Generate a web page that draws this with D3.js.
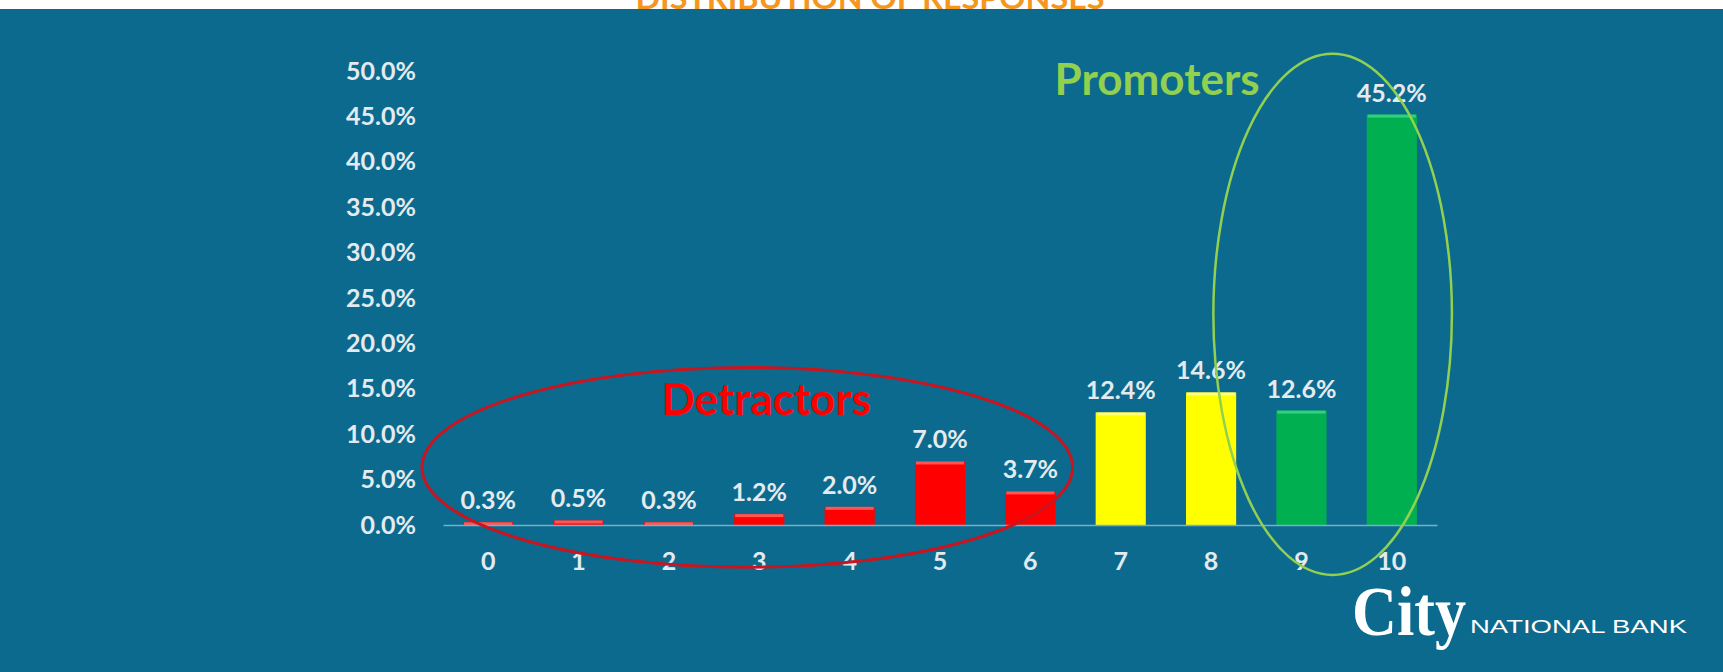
<!DOCTYPE html>
<html>
<head>
<meta charset="utf-8">
<script src="https://cdn.jsdelivr.net/npm/d3@7"></script>
<style>
  html, body { margin: 0; padding: 0; background: #ffffff; }
  svg { display: block; }
  text { font-family: Lato, "Open Sans", sans-serif; }
</style>
</head>
<body>
<svg id="chart"></svg>
<script>
// data
const scores = ["0", "1", "2", "3", "4", "5", "6", "7", "8", "9", "10"];
const shares = [0.3, 0.5, 0.3, 1.2, 2.0, 7.0, 3.7, 12.4, 14.6, 12.6, 45.2];
const groups = ["detractor", "detractor", "detractor", "detractor", "detractor", "detractor", "detractor",
                "passive", "passive", "promoter", "promoter"];
const yTicks = [0, 5, 10, 15, 20, 25, 30, 35, 40, 45, 50];

const groupColor = { detractor: "#ff0000", passive: "#ffff00", promoter: "#00b050" };
const groupTop = { detractor: "#ff6a6a", passive: "#ffff9a", promoter: "#3fd886" };

const width = 1723, height = 672;
const margin = { top: 71, right: 286, bottom: 147, left: 443 };

const svg = d3.select("#chart")
    .attr("width", width)
    .attr("height", height);

// slide background, a white strip with the cut-off title on top
svg.append("rect")
    .attr("x", 0).attr("y", 9)
    .attr("width", width).attr("height", height - 9)
    .attr("fill", "#0c6a8e");

svg.append("text")
    .attr("x", 870).attr("y", 9)
    .attr("text-anchor", "middle")
    .attr("textLength", 469)
    .attr("lengthAdjust", "spacingAndGlyphs")
    .style("font-size", "30px")
    .style("font-weight", 700)
    .style("fill", "#f5961e")
    .text("DISTRIBUTION OF RESPONSES");

const innerW = width - margin.left - margin.right;
const innerH = height - margin.top - margin.bottom;

const x = d3.scaleBand()
    .domain(scores)
    .range([margin.left, margin.left + innerW])
    .paddingInner(0.445)
    .paddingOuter(0.2225);

const y = d3.scaleLinear()
    .domain([0, 50])
    .range([margin.top + innerH, margin.top]);

const labelColor = "#e4ebf0";

// y axis labels (no line, no ticks)
const yAxis = d3.axisLeft(y)
    .tickValues(yTicks)
    .tickFormat(d => d.toFixed(1) + "%")
    .tickSize(0)
    .tickPadding(0);

const yAxisG = svg.append("g")
    .attr("transform", `translate(${margin.left - 27},0)`)
    .call(yAxis);
yAxisG.select(".domain").remove();
yAxisG.selectAll("text")
    .style("font-family", "Lato, sans-serif")
    .style("font-size", "25px")
    .style("font-weight", 700)
    .style("fill", labelColor);

// bars
const bars = svg.append("g").selectAll(".bar")
    .data(scores)
    .enter();

bars.append("rect")
    .attr("class", "bar")
    .attr("x", d => x(d))
    .attr("y", (d, i) => y(shares[i]))
    .attr("width", x.bandwidth())
    .attr("height", (d, i) => y(0) - y(shares[i]))
    .attr("fill", (d, i) => groupColor[groups[i]]);

// light bevel along the top of each bar
bars.append("rect")
    .attr("x", d => x(d) + 1)
    .attr("y", (d, i) => y(shares[i]))
    .attr("width", x.bandwidth() - 2)
    .attr("height", (d, i) => Math.min(3, y(0) - y(shares[i])))
    .attr("fill", (d, i) => groupTop[groups[i]])
    .attr("opacity", 0.8);

// x axis: baseline + category labels
const xAxis = d3.axisBottom(x)
    .tickSize(0)
    .tickPadding(0);

const xAxisG = svg.append("g")
    .attr("transform", `translate(0,${y(0)})`)
    .call(xAxis);
xAxisG.select(".domain")
    .attr("stroke", "#78aecb")
    .attr("stroke-width", 1.5);
xAxisG.selectAll("text")
    .attr("y", 45)
    .attr("dy", 0)
    .style("font-family", "Lato, sans-serif")
    .style("font-size", "25px")
    .style("font-weight", 700)
    .style("fill", labelColor);

// value labels above bars
svg.append("g").selectAll(".value")
    .data(scores)
    .enter().append("text")
    .attr("class", "value")
    .attr("x", d => x(d) + x.bandwidth() / 2)
    .attr("y", (d, i) => y(shares[i]) - 13)
    .attr("text-anchor", "middle")
    .style("font-size", "25px")
    .style("font-weight", 700)
    .style("fill", labelColor)
    .text((d, i) => shares[i].toFixed(1) + "%");

// hand drawn call-outs
const step = x.step();
const mid = d => x(d) + x.bandwidth() / 2;

svg.append("ellipse")
    .attr("cx", mid("3") - 12)
    .attr("cy", y(6.35))
    .attr("rx", step * 3.6)
    .attr("ry", y(0) - y(11))
    .attr("fill", "none")
    .attr("stroke", "#c8151f")
    .attr("stroke-width", 3);

svg.append("text")
    .attr("x", mid("3") + 7)
    .attr("y", y(12.1))
    .attr("text-anchor", "middle")
    .style("font-size", "44px")
    .style("font-weight", 700)
    .style("fill", "#ff0000")
    .text("Detractors");

svg.append("ellipse")
    .attr("cx", (mid("9") + mid("10")) / 2 - 14)
    .attr("cy", y(23.2))
    .attr("rx", step * 1.32)
    .attr("ry", y(0) - y(28.7))
    .attr("fill", "none")
    .attr("stroke", "#92d050")
    .attr("stroke-width", 2.5);

svg.append("text")
    .attr("x", mid("8") - 54)
    .attr("y", y(47.4))
    .attr("text-anchor", "middle")
    .style("font-size", "44px")
    .style("font-weight", 700)
    .style("fill", "#92d050")
    .text("Promoters");

// bank logo
const logo = svg.append("g");
logo.append("text")
    .attr("x", 1352).attr("y", 635)
    .style("font-family", "'Liberation Serif', 'DejaVu Serif', serif")
    .style("font-size", "70px")
    .style("font-weight", 700)
    .attr("textLength", 114)
    .attr("lengthAdjust", "spacingAndGlyphs")
    .style("fill", "#ffffff")
    .text("City");
logo.append("text")
    .attr("x", 1470).attr("y", 633)
    .style("font-family", "'Liberation Sans', 'DejaVu Sans', sans-serif")
    .style("font-size", "19px")
    .style("font-weight", 400)
    .attr("textLength", 217)
    .attr("lengthAdjust", "spacingAndGlyphs")
    .style("fill", "#ffffff")
    .text("NATIONAL BANK");
</script>
</body>
</html>
